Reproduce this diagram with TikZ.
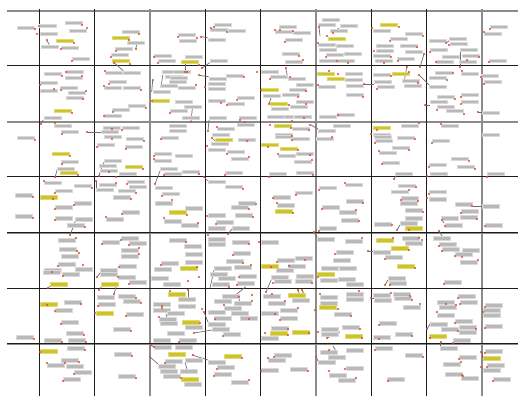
\documentclass[tikz,border=0pt]{standalone}
\definecolor{labgray}{RGB}{185,185,185}
\definecolor{labedge}{RGB}{218,218,218}
\definecolor{labyel}{RGB}{206,196,40}
\definecolor{labyeledge}{RGB}{225,218,120}
\definecolor{dotred}{RGB}{222,72,50}
\definecolor{gridblack}{RGB}{28,28,28}
\definecolor{gridgray}{RGB}{140,140,140}
\definecolor{leadgray}{RGB}{110,110,110}
\tikzset{
  lab/.style={fill=labgray,draw=labedge,line width=0.6pt},
  ylab/.style={fill=labyel,draw=labyeledge,line width=0.6pt},
  rdot/.style={fill=dotred},
  lead/.style={draw=leadgray,line width=0.7pt},
  gline/.style={draw=gridgray,line width=2.5pt},
  bline/.style={draw=gridblack,line width=1pt}
}
\begin{document}
\begin{tikzpicture}[x=1pt,y=-1pt]
\useasboundingbox (0,0) rectangle (525,401);
% grid
\foreach \y in {11,122} \draw[gline] (7,\y) -- (518,\y);
\foreach \y in {233.3,343.6} \draw[draw=gridgray,line width=2pt] (7,\y) -- (518,\y);
\foreach \x in {150,316,482} \draw[gline] (\x,9) -- (\x,396);
\foreach \y in {66,177,232.5,288,343} \draw[bline] (7,\y) -- (518,\y);
\foreach \x in {39,94,205,260,371,426} \draw[bline] (\x,9) -- (\x,396);
% leaders
\foreach \a/\b/\c/\d in {
 46.7/40.3/49.3/44.5, 135.7/48.7/136.7/45, 114.7/63.3/123.3/70.7, 40.7/123.7/43.3/120,
 87/132.3/101/132.3, 152.7/80/151.7/92, 162.7/75/161/88, 201.3/36.7/207.7/37.7,
 185/71.7/185/64, 201.7/68.3/209.7/62.7, 319/26.7/320/36, 332.7/32.7/338.7/28.3,
 199/75.3/208.7/76.7, 285.7/68.3/287.7/77.3, 269/104/271/98, 191/122/192.3/108.7,
 208/130.7/209/120, 311/125/318/129, 420/67/424/54, 460/67/460/52, 446/43/449/41,
 406.7/66.7/404/83, 364/84/374/84, 419/75/429/85, 425/105/430/105, 478/112/482/112,
 55/177.3/57.3/169.3, 98.7/176/104.3/161.7, 155/184/160/171, 96/181/96/188,
 70.3/234.7/75.3/221, 212/138/215/141, 204/177/208/181, 228/234/232/229, 314/232/317/237,
 394/179/396/176, 397/230/400/225, 406/222/409/230, 442/220/444/223, 473/206/482/206,
 368/251/373/251, 439/231/442/236, 461/252/462/257, 97/277/100/273, 48/288/50/286,
 117/283/114/294, 99/290/102/286, 166/314/168/321, 150/357/158/364, 151/345/154/347,
 214/270/210/288, 245.7/286.7/231.7/298.3, 239/297/240/310, 204/312/208/322,
 194/333/212/330, 272/278/266/292, 298/290/300/296, 302/290/305/296, 188/290/188/297,
 327/338/340/332, 192/355/208/360, 185/362/188/373, 333/346/337/353, 316/357/318/361,
 385/285/388/280, 371/298/374/298, 427/329/430/324, 440/342/440/346, 482/352/482/358}
 \draw[lead] (\a,\b) -- (\c,\d);
% gray labels
\foreach \x/\y in {
 17/26,39/24,65/21,69/29,40/32,41/45,61/46,72/57,
 122/30,127/41,115/47,111/53,154/54,158/59,
 178/33,179/39,208/38,214/23,210/28,228/29,185/55,210/59,
 279/25,275/30,293/31,285/38,282/52,285/60,
 322/18,318/23,330/29,336/44,318/43,319/48,326/53,344/52,319/59,337/59,340/24,
 373/29,405/32,390/37,376/44,400/44,376/49,405/50,373/54,397/57,375/59,
 429/39,449/37,450/42,430/48,460/48,462/54,442/55,436/60,459/60,
 490/25,484/32,489/59,
 44/72,66/70,65/76,40/81,40/89,60/86,68/91,66/96,44/116,
 105/71,123/71,109/80,104/86,123/86,128/104,112/108,104/114,
 162/70,165/75,169/80,160/84,153/90,170/109,173/70,170/76,178/86,
 209/77,208/82,208/87,226/74,208/99,237/96,227/102,175/100,184/105,182/116,
 261/70,270/75,288/77,296/83,289/88,282/93,263/94,290/105,296/100,271/107,276/115,267/115,294/115,
 318/85,345/72,345/78,346/84,337/113,319/115,
 373/73,402/79,374/80,404/84,377/85,346/93,
 435/71,429/76,429/85,461/72,437/95,430/100,437/105,446/109,461/93,461/100,
 481/74,484/80,482/111,
 209/116,239/116,237/123,217/127,212/133,292/127,275/133,333/124,318/129,
 54/124,61/130,101/130,103/126,122/126,169/124,169/129,
 17/136,61/160,57/167,
 104/135,126/137,97/143,125/145,104/159,99/164,100/169,119/172,
 154/152,154/159,161/136,160/167,164/172,
 238/138,211/142,208/148,227/150,231/157,182/170,225/171,175/154,
 278/154,296/152,294/160,275/135,292/137,269/172,296/171,316/137,
 401/124,441/124,373/133,482/133,
 374/135,375/139,397/136,392/146,379/151,382/161,395/172,
 432/139,451/157,429/163,457/165,430/172,487/172,
 15/193,15/214,44/181,55/189,74/184,55/205,74/201,55/216,75/217,67/223,
 96/188,99/183,127/180,129/185,118/189,113/195,122/210,106/217,
 155/186,162/192,155/201,164/219,
 208/180,225/185,238/201,231/205,208/213,235/213,216/220,208/226,232/226,
 185/206,181/223,
 273/195,277/203,295/191,
 319/186,322/205,319/226,345/183,346/199,339/210,341/218,
 398/184,391/190,401/196,400/201,405/208,405/216,400/221,374/222,
 429/190,429/197,455/202,461/209,441/216,460/215,445/223,
 482/204,485/223,
 58/238,59/247,61/254,58/262,44/268,75/267,
 102/240,121/236,129/241,121/248,121/254,119/264,100/268,
 169/238,161/261,154/267,
 208/237,208/242,232/240,233/251,226/259,234/265,214/266,
 184/244,185/252,185/260,
 261/240,277/258,295/256,288/264,276/268,
 317/237,345/239,336/250,333/258,321/266,339/266,
 402/236,405/241,373/250,385/255,
 433/236,439/242,442/247,455/252,462/248,460/260,
 43/270,62/272,100/272,118/275,129/280,151/276,163/282,
 210/272,218/276,239/274,212/282,237/281,
 271/275,274/279,296/274,295/279,320/278,338/277,
 388/276,389/281,444/280,346/282,
 64/300,55/308,61/320,66/331,44/338,68/338,16/335,
 97/295,118/294,123/299,98/302,126/312,113/327,
 153/302,153/308,159/317,160/321,167/331,167/311,153/338,
 178/297,178/304,185/325,179/338,
 222/294,214/299,234/301,224/306,231/311,208/310,214/316,240/316,208/322,212/327,223/332,
 263/294,268/301,280/308,261/311,280/316,271/326,261/336,292/298,
 320/295,320/301,334/312,321/327,321/332,342/325,
 346/292,346/297,373/293,374/298,393/292,394/296,403/305,379/321,395/332,373/335,
 437/300,439/305,458/294,460/300,437/313,455/319,430/322,459/325,441/327,459/330,453/338,
 485/303,483/308,483/313,485/324,
 67/346,61/358,47/363,66/364,74/370,63/377,
 114/352,118/374,
 154/345,165/359,158/364,160/369,163/374,
 175/345,185/358,180/369,184/382,208/360,217/365,214/372,231/380,
 274/353,268/358,261/368,290/367,
 320/350,328/355,318/360,329/373,338/378,
 375/346,405/353,387/377,346/348,346/366,
 440/346,459/355,443/362,445/372,461/376,
 485/349,487/363,483/368,493/377}
 \path[lab] (\x,\y) rectangle ++(17.3,3.8);
% yellow labels
\foreach \x/\y in {
 56/39,112/36,112/59,181/60,328/37,380/23,
 54/109,152/99,261/88,270/102,317/72,327/77,392/72,
 274/124,373/126,52/152,60/171,125/165,215/138,261/143,280/147,
 40/195,169/210,275/209,405/226,
 180/266,261/264,376/238,391/246,397/264,
 50/282,101/282,317/272,
 40/302,96/311,168/292,182/320,270/331,288/293,292/330,319/305,345/334,429/334,
 40/349,168/352,224/354,181/377,483/356}
 \path[ylab] (\x,\y) rectangle ++(17.3,3.8);
% red dots
\foreach \x/\y in {
 35/29,39/26,82/25,87/28,37/34,74/43,47/40,61/49,72/61,139/34,129/40,136/49,116/51,111/57,130/64,114/63,154/57,158/63,
 178/37,197/38,201/37,214/27,211/28,227/32,199/65,185/72,202/68,
 275/30,280/30,293/31,285/42,299/56,303/60,
 319/27,333/33,327/36,318/43,326/57,337/61,348/63,
 399/27,372/28,423/36,390/41,374/51,417/47,424/54,391/57,398/61,384/63,420/67,
 430/52,446/43,449/45,479/57,436/62,467/60,460/67,490/29,484/32,489/62,
 62/76,66/72,82/76,40/85,54/89,61/90,86/91,83/99,72/113,41/124,
 105/71,109/84,104/86,141/90,146/108,113/112,104/116,153/80,152/101,170/113,
 187/72,196/85,199/75,205/87,244/77,221/103,237/100,227/105,191/122,
 257/72,270/79,286/68,290/77,306/91,298/97,261/90,269/104,289/105,306/104,292/121,270/125,304/118,
 329/71,338/74,318/85,338/115,
 391/76,409/72,418/83,407/67,377/89,364/84,363/97,
 453/73,447/80,419/75,462/71,455/99,437/110,464/114,461/97,461/104,425/105,
 481/77,484/84,478/112,
 208/131,240/120,245/122,217/127,291/128,309/130,310/125,
 377/130,419/123,441/124,371/134,
 55/123,62/134,87/132,112/129,122/130,
 35/140,70/156,62/164,78/175,55/177,
 112/139,144/141,97/147,126/149,109/172,99/176,143/169,116/177,
 154/156,154/159,161/139,164/175,155/184,
 212/138,247/141,207/146,227/154,249/157,199/174,225/175,
 268/147,298/150,278/154,310/155,312/160,292/136,292/140,269/177,313/175,332/137,
 375/143,415/139,409/150,379/151,382/164,394/179,
 432/143,469/161,429/167,475/169,427/176,487/177,
 33/197,33/218,44/181,55/193,92/188,53/199,55/209,74/205,55/220,85/227,70/235,
 96/181,116/183,127/184,136/193,131/199,122/214,106/217,
 162/196,172/200,164/218,
 204/177,243/189,256/204,249/209,207/216,253/217,216/224,228/234,187/215,198/223,
 273/198,277/203,293/213,296/195,
 319/190,322/209,319/231,345/183,
 416/187,409/190,401/200,418/201,423/212,397/230,409/230,392/225,363/203,356/210,359/221,
 429/194,427/198,472/206,461/213,477/219,445/226,442/220,485/226,
 76/238,77/251,79/253,58/266,83/265,
 102/244,121/240,129/245,139/248,139/254,119/267,161/265,
 208/235,249/244,233/255,243/263,251/265,186/242,197/267,
 259/242,277/262,305/260,289/266,271/267,314/232,335/254,
 362/238,393/238,419/238,422/240,409/250,368/251,385/259,415/268,
 439/231,439/246,442/251,455/256,478/260,462/257,
 52/272,63/276,48/288,97/277,118/277,129/284,99/290,170/291,
 199/277,239/277,229/287,237/285,188/281,273/283,312/283,266/292,318/277,
 390/285,385/285,444/284,359/291,
 47/305,81/304,55/311,61/324,84/335,62/342,86/342,34/339,
 114/294,136/298,141/303,98/306,95/313,126/316,131/331,
 162/306,162/308,159/317,188/290,202/309,200/323,179/342,
 252/295,252/301,224/305,215/319,249/319,223/336,239/297,204/312,194/333,
 272/294,285/301,298/308,275/314,280/320,288/329,288/335,265/333,309/333,298/290,302/290,
 320/294,338/309,315/310,318/332,327/338,
 371/298,391/293,410/296,412/300,420/304,379/325,412/336,379/339,351/316,360/329,362/338,
 446/304,456/305,458/298,460/304,437/312,455/323,427/329,476/329,458/331,430/338,453/343,441/342,
 485/307,483/312,485/328,
 85/350,40/352,65/363,79/362,47/363,74/374,63/381,132/356,136/378,
 154/347,151/345,165/363,150/357,
 193/355,181/378,242/358,217/369,214/376,249/380,
 274/357,268/358,261/371,308/371,329/350,316/357,329/371,345/369,
 375/350,423/357,388/381,356/378,459/359,461/362,463/376,462/375,
 485/353,481/352,487/367,481/367,493/381}
 \fill[rdot] (\x,\y) circle (1.2);
\end{tikzpicture}
\end{document}
